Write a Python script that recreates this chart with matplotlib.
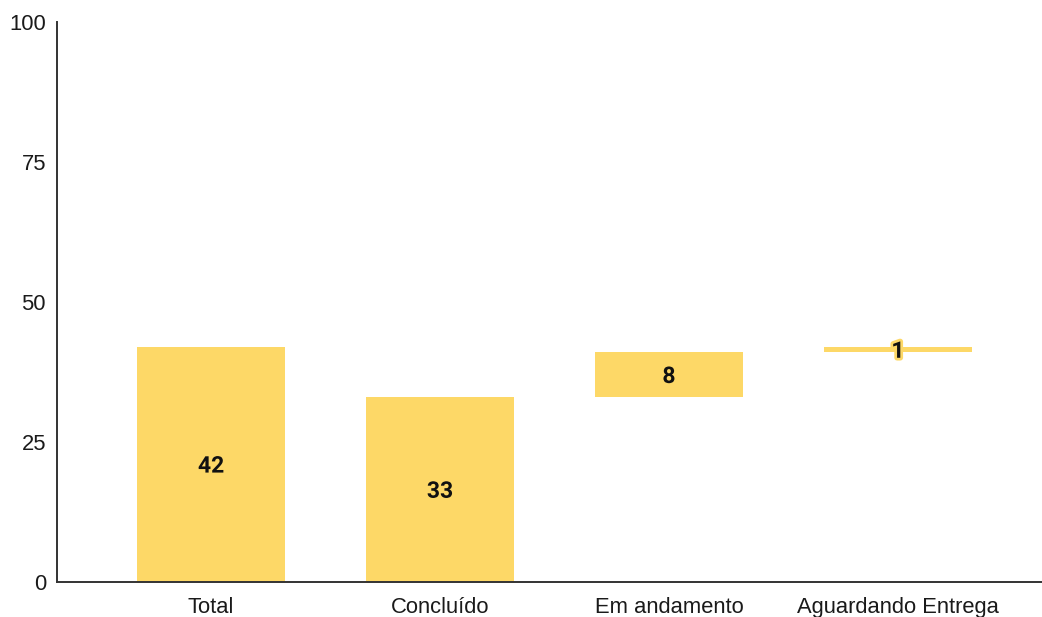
import matplotlib
matplotlib.use("Agg")
import matplotlib.pyplot as plt
import matplotlib.patheffects as pe

categories = ["Total", "Concluído", "Em andamento", "Aguardando Entrega"]
values = [42, 33, 8, 1]
bases = [0, 0, 33, 41]
yticks = [0, 25, 50, 75, 100]

bar_color = "#FDD867"

fig = plt.figure(figsize=(10.42, 6.17), dpi=100)
ax = fig.add_axes([57/1042, 35/617, 1 - 57/1042 + 0.001, (582-22)/617])

x = list(range(len(categories)))
ax.bar(x, values, bottom=bases, width=0.647, color=bar_color, edgecolor="none")

for xi, v, b in zip(x, values, bases):
    ax.text(xi, b + v/2 - 0.3, str(v), ha="center", va="center", fontsize=16.5,
            fontweight="bold", family=["Roboto", "DejaVu Sans"], color="#111111",
            path_effects=[pe.withStroke(linewidth=4, foreground=bar_color)])

ax.set_xlim(-0.673, 3.634)
ax.set_ylim(0, 100)
ax.set_yticks(yticks)
ax.set_yticklabels([str(t) for t in yticks], family="Liberation Sans", fontsize=15.8, color="#1a1a1a")
ax.set_xticks(x)
ax.set_xticklabels(categories, family="Liberation Sans", fontsize=15.8, color="#1a1a1a")
ax.tick_params(axis="both", length=0)
ax.tick_params(axis="y", pad=8)
ax.tick_params(axis="x", pad=11)
for s in ["top", "right"]:
    ax.spines[s].set_visible(False)
for s in ["left", "bottom"]:
    ax.spines[s].set_color("#333333")
    ax.spines[s].set_linewidth(1.4)

fig.savefig("out.png", dpi=100)
